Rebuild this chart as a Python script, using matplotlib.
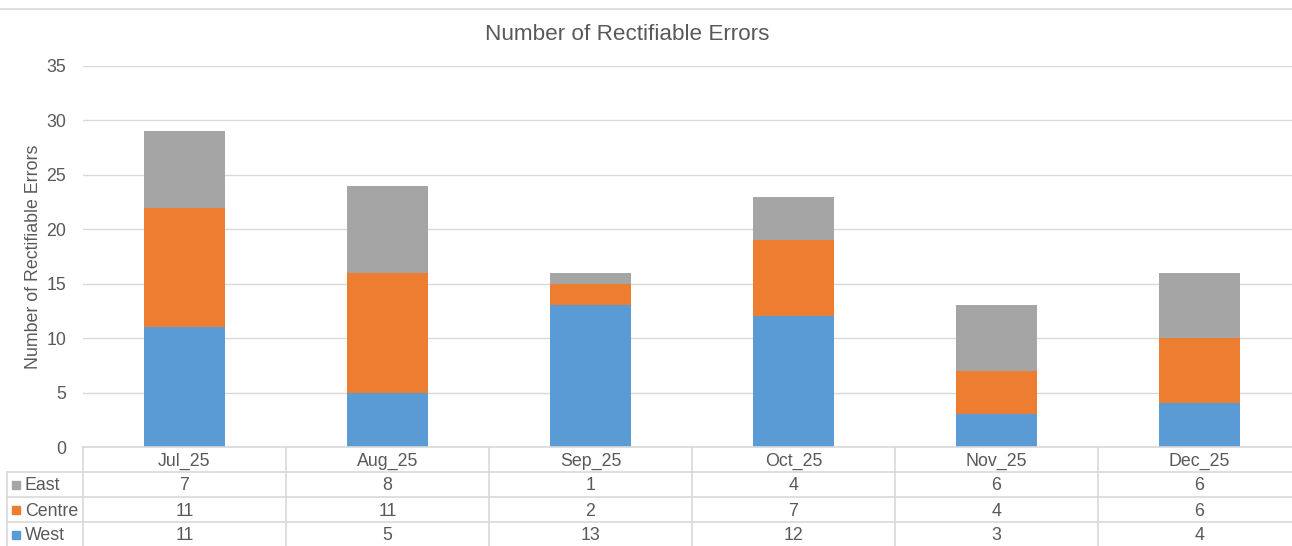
import matplotlib
matplotlib.use("Agg")
import matplotlib.pyplot as plt
from matplotlib.transforms import blended_transform_factory
from matplotlib.patches import Rectangle

months = ["Jul_25", "Aug_25", "Sep_25", "Oct_25", "Nov_25", "Dec_25"]
west = [11, 5, 13, 12, 3, 4]
centre = [11, 11, 2, 7, 4, 6]
east = [7, 8, 1, 4, 6, 6]

series_names = ["West", "Centre", "East"]
series_colors = ["#5b9bd5", "#ed7d31", "#a5a5a5"]
yticks = [0, 5, 10, 15, 20, 25, 30, 35]

W, H = 1292, 546
plt.rcParams["font.family"] = ["Liberation Sans", "DejaVu Sans"]
text_color = "#595959"
grid_color = "#d9d9d9"

fig = plt.figure(figsize=(W / 100, H / 100), dpi=100)

# plot area in pixels
left_px, right_px, top_px, bottom_px = 83, 1301, 66, 447
ax = fig.add_axes([left_px / W, 1 - bottom_px / H,
                   (right_px - left_px) / W, (bottom_px - top_px) / H])

x = list(range(len(months)))
bottoms = [0] * len(months)
for name, vals, col in zip(series_names, [west, centre, east], series_colors):
    ax.bar(x, vals, width=0.4, bottom=bottoms, color=col, zorder=3)
    bottoms = [b + v for b, v in zip(bottoms, vals)]

fs = 12.8
ax.set_xlim(-0.5, len(months) - 0.5)
ax.set_ylim(0, 35)
ax.set_yticks(yticks)
ax.set_xticks([])
ax.grid(axis="y", color=grid_color, linewidth=1.0, zorder=0)
for s in ax.spines.values():
    s.set_visible(False)
ax.tick_params(axis="y", length=0, labelsize=fs, labelcolor=text_color, pad=12)
ax.set_ylabel("Number of Rectifiable Errors", fontsize=fs, color=text_color)
ax.yaxis.set_label_coords((33 - left_px) / (right_px - left_px), 0.5)
ax.yaxis.label.set_va("center")

fig.text(627 / W, 1 - 35 / H, "Number of Rectifiable Errors",
         ha="center", va="center", fontsize=16.2, color=text_color)

# top border of chart area
fig.add_artist(plt.Line2D([0, 1], [1 - 8.5 / H, 1 - 8.5 / H],
                          transform=fig.transFigure, color=grid_color, linewidth=1.2))

# data table beneath the axis
tr = blended_transform_factory(ax.transData, fig.transFigure)
fy = lambda py: 1 - py / H
fx = lambda px: px / W
row_edges = [447, 472, 497, 522, 547]
n = len(months)
lw = 1.2
# horizontal lines
fig.add_artist(plt.Line2D([fx(left_px), fx(right_px)], [fy(447), fy(447)],
                          transform=fig.transFigure, color=grid_color, linewidth=lw))
for py in row_edges[1:]:
    fig.add_artist(plt.Line2D([fx(7), fx(right_px)], [fy(py), fy(py)],
                              transform=fig.transFigure, color=grid_color, linewidth=lw))
# vertical lines
for i in range(n + 1):
    fig.add_artist(plt.Line2D([i - 0.5, i - 0.5], [fy(447), fy(547)],
                              transform=tr, color=grid_color, linewidth=lw))
fig.add_artist(plt.Line2D([fx(7), fx(7)], [fy(472), fy(547)],
                          transform=fig.transFigure, color=grid_color, linewidth=lw))

dy = 1.5
for i, m in enumerate(months):
    ax.text(i, fy(460 + dy), m, transform=tr, ha="center", va="center",
            fontsize=fs, color=text_color)

table_rows = [("East", east, series_colors[2]),
              ("Centre", centre, series_colors[1]),
              ("West", west, series_colors[0])]
for r, (name, vals, col) in enumerate(table_rows):
    cy = (row_edges[r + 1] + row_edges[r + 2]) / 2
    fig.add_artist(Rectangle((fx(11.5), fy(cy + 4)), 8 / W, 8 / H,
                             transform=fig.transFigure, color=col))
    fig.text(fx(25), fy(cy + dy), name, ha="left", va="center",
             fontsize=fs, color=text_color)
    for i, v in enumerate(vals):
        ax.text(i, fy(cy + dy), str(v), transform=tr, ha="center", va="center",
                fontsize=fs, color=text_color)

fig.savefig("out.png", dpi=100)
